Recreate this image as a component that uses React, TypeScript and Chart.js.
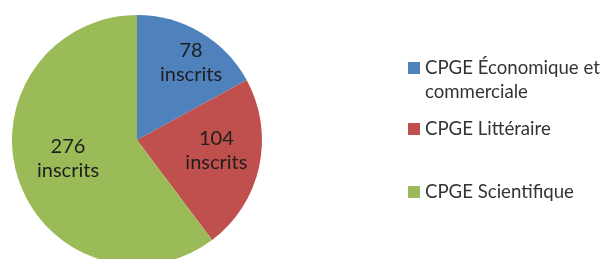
import React, { useEffect, useRef } from "react";
import { Chart, registerables } from "chart.js";

Chart.register(...registerables);

const categories: string[][] = [
  ["CPGE Économique et", "commerciale"],
  ["CPGE Littéraire"],
  ["CPGE Scientifique"],
];
const values: number[] = [78, 104, 276];
const unitLabel = "inscrits";
const colors: string[] = ["#4F81BD", "#C0504D", "#9BBB59"];

const FONT = "Lato, 'Open Sans', sans-serif";

const labelPlugin = {
  id: "sliceLabels",
  afterDatasetsDraw(chart: any) {
    const ctx = chart.ctx;
    const meta = chart.getDatasetMeta(0);
    const radiusFrac = [0.76, 0.64, 0.57];
    const angleOffset = [4, -5, 4];
    ctx.save();
    ctx.fillStyle = "#1e1e1e";
    ctx.font = `20px ${FONT}`;
    ctx.textAlign = "center";
    ctx.textBaseline = "alphabetic";
    meta.data.forEach((arc: any, i: number) => {
      const p = arc.getProps(["x", "y", "startAngle", "endAngle", "outerRadius"], true);
      const mid = (p.startAngle + p.endAngle) / 2 + (angleOffset[i] * Math.PI) / 180;
      const r = p.outerRadius * radiusFrac[i];
      const cx = p.x + Math.cos(mid) * r;
      const cy = p.y + Math.sin(mid) * r;
      ctx.fillText(String(values[i]), cx, cy - 5);
      ctx.fillText(unitLabel, cx, cy + 19);
    });
    ctx.restore();
  },
};

const legendPlugin = {
  id: "customLegend",
  afterDraw(chart: any) {
    const ctx = chart.ctx;
    const boxX = 408;
    const textX = 425;
    const baselines = [74, 135, 198];
    const lineH = 24;
    ctx.save();
    ctx.font = `20px ${FONT}`;
    const w = ctx.measureText(categories[0][0]).width;
    const size = Math.min(20, (20 * 175) / w);
    ctx.font = `${size.toFixed(2)}px ${FONT}`;
    ctx.textAlign = "left";
    ctx.textBaseline = "alphabetic";
    categories.forEach((lines, i) => {
      const b = baselines[i];
      ctx.fillStyle = colors[i];
      ctx.fillRect(boxX, b - 12, 12, 12);
      ctx.fillStyle = "#333333";
      lines.forEach((t, j) => ctx.fillText(t, textX, b + j * lineH));
    });
    ctx.restore();
  },
};

export default function App() {
  const ref = useRef<HTMLCanvasElement | null>(null);
  useEffect(() => {
    if (!ref.current) return;
    const chart = new Chart(ref.current, {
      type: "pie",
      data: {
        labels: categories.map((c) => c.join(" ")),
        datasets: [
          {
            data: values,
            backgroundColor: colors,
            borderWidth: 0,
          },
        ],
      },
      options: {
        responsive: false,
        animation: false,
        layout: { padding: { left: 12, top: 15, right: 341, bottom: 15 } },
        plugins: {
          legend: { display: false },
          tooltip: { enabled: false },
        },
      },
      plugins: [labelPlugin, legendPlugin],
    });
    return () => chart.destroy();
  }, []);
  return (
    <div
      style={{
        position: "fixed",
        left: 0,
        top: 0,
        width: 603,
        height: 259,
        overflow: "hidden",
        background: "#ffffff",
      }}
    >
      <canvas ref={ref} width={603} height={280} style={{ width: 603, height: 280 }} />
    </div>
  );
}
